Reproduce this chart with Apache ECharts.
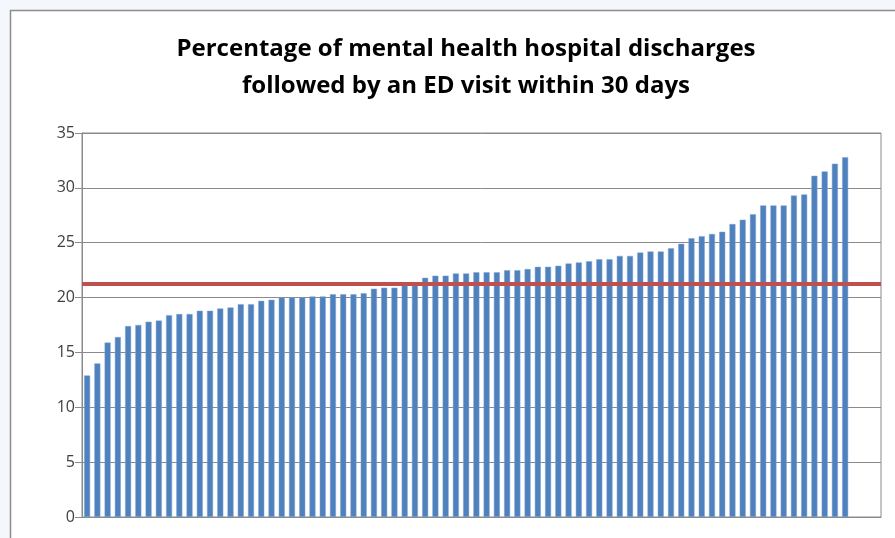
<!DOCTYPE html>
<html>
<head>
<meta charset="utf-8">
<title>Mental health discharges followed by ED visit</title>
<script src="https://cdn.jsdelivr.net/npm/echarts@6/dist/echarts.min.js"></script>
<style>
  html, body { margin: 0; padding: 0; background: #ffffff; }
  #chart { width: 895px; height: 538px; }
</style>
</head>
<body>
<div id="chart"></div>
<script>
// Percentage of discharges followed by an ED visit within 30 days, one bar per hospital (sorted)
const rates = [
  12.9, 14.0, 15.9, 16.4, 17.4, 17.5, 17.8, 17.9, 18.4, 18.5,
  18.5, 18.8, 18.8, 19.0, 19.1, 19.4, 19.4, 19.7, 19.8, 20.0,
  20.0, 20.0, 20.1, 20.1, 20.3, 20.3, 20.3, 20.4, 20.8, 20.9,
  20.9, 21.1, 21.1, 21.8, 22.0, 22.0, 22.2, 22.2, 22.3, 22.3,
  22.3, 22.5, 22.5, 22.6, 22.8, 22.8, 22.9, 23.1, 23.2, 23.3,
  23.5, 23.5, 23.8, 23.8, 24.1, 24.2, 24.2, 24.5, 24.9, 25.4,
  25.6, 25.8, 26.0, 26.7, 27.1, 27.6, 28.4, 28.4, 28.4, 29.3,
  29.4, 31.1, 31.5, 32.2, 32.8
];
// Overall rate drawn as a reference line
const overallRate = 21.3;
// Spare category slots left empty at the right end of the axis
const emptySlots = 3;
const yTicks = [0, 5, 10, 15, 20, 25, 30, 35];
const titleLines = [
  'Percentage of mental health hospital discharges',
  'followed by an ED visit within 30 days'
];

const categories = rates.map((_, i) => 'H' + (i + 1));
for (let i = 0; i < emptySlots; i++) categories.push('');

const gridColor = '#8a8a8a';

const chart = echarts.init(document.getElementById('chart'));
chart.setOption({
  animation: false,
  backgroundColor: '#f4f8fc',
  graphic: [{
    type: 'rect',
    z: -10,
    shape: { x: 10.5, y: 10.5, width: 1000, height: 1000 },
    style: { fill: '#ffffff', stroke: '#8c8c8c', lineWidth: 1.5 }
  }],
  title: {
    text: titleLines.join('\n'),
    left: 461,
    top: 26,
    textAlign: 'center',
    textStyle: {
      fontFamily: 'Open Sans',
      fontWeight: 'bold',
      fontSize: 24,
      lineHeight: 37,
      color: '#000000'
    }
  },
  grid: {
    left: 82, right: 14, top: 133, bottom: 21,
    show: true, borderColor: gridColor, borderWidth: 1,
    backgroundColor: 'transparent'
  },
  xAxis: {
    type: 'category',
    data: categories,
    boundaryGap: true,
    axisLine: { show: true, lineStyle: { color: gridColor, width: 1 } },
    axisTick: { show: false },
    axisLabel: { show: false },
    splitLine: { show: false }
  },
  yAxis: {
    type: 'value',
    min: yTicks[0],
    max: yTicks[yTicks.length - 1],
    interval: yTicks[1] - yTicks[0],
    axisLine: { show: true, lineStyle: { color: gridColor, width: 1 } },
    axisTick: { show: true, length: 7, lineStyle: { color: gridColor } },
    axisLabel: {
      margin: 7,
      fontFamily: 'Open Sans',
      fontSize: 16,
      color: '#404040'
    },
    splitLine: { show: true, lineStyle: { color: gridColor, width: 1 } }
  },
  series: [{
    type: 'bar',
    data: rates,
    barWidth: 6,
    itemStyle: { color: '#4f81bd', borderColor: '#7fa5d4', borderWidth: 0.5 },
    markLine: {
      silent: true,
      symbol: 'none',
      label: { show: false },
      lineStyle: { color: '#c0504d', width: 4, type: 'solid' },
      data: [{ yAxis: overallRate }]
    }
  }]
});
</script>
</body>
</html>
